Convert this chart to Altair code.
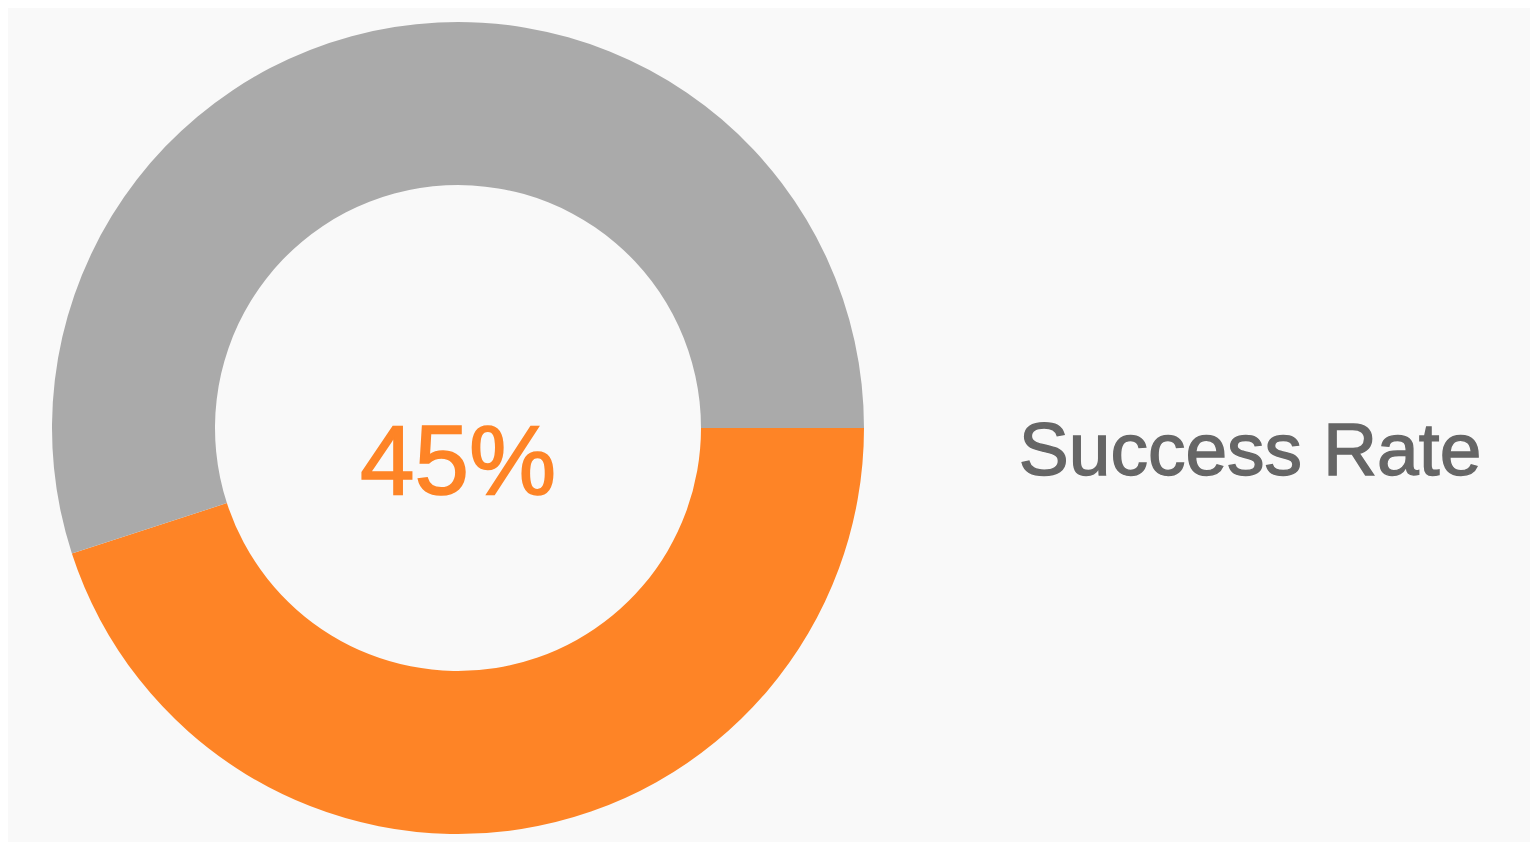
import math
import altair as alt
import pandas as pd

categories = ["Success", "Remaining"]
values = [45, 55]
order_idx = [0, 1]
colors = ["#fe8426", "#aaaaaa"]
center_label = "45%"
side_label = "Success Rate"

df = pd.DataFrame({"category": categories, "value": values, "order": order_idx})

arc = alt.Chart(df).mark_arc(outerRadius=406, innerRadius=243, stroke=None).encode(
    theta=alt.Theta("value:Q", stack=True,
                    scale=alt.Scale(range=[math.pi / 2, math.pi / 2 + 2 * math.pi])),
    color=alt.Color("category:N", scale=alt.Scale(domain=categories, range=colors), legend=None),
    order=alt.Order("order:Q"),
    x=alt.value(450),
    y=alt.value(420),
)

center = alt.Chart(pd.DataFrame({"t": [center_label]})).mark_text(
    font="Liberation Sans", fontSize=98, color="#fe8426", align="center", baseline="middle",
    stroke="#fe8426", strokeWidth=1.6
).encode(text="t:N", x=alt.value(450), y=alt.value(457))

side = alt.Chart(pd.DataFrame({"t": [side_label]})).mark_text(
    font="Liberation Sans", fontSize=75, color="#666666", align="center", baseline="middle",
    stroke="#666666", strokeWidth=1.4
).encode(text="t:N", x=alt.value(1242), y=alt.value(444))

chart = alt.layer(arc, center, side).properties(
    width=1522, height=834, padding=0,
    autosize=alt.AutoSizeParams(type="fit", contains="padding"),
    background="#f9f9f9",
).configure_view(stroke=None)

chart.save("out.html", embed_options={"renderer": "svg", "actions": False})
